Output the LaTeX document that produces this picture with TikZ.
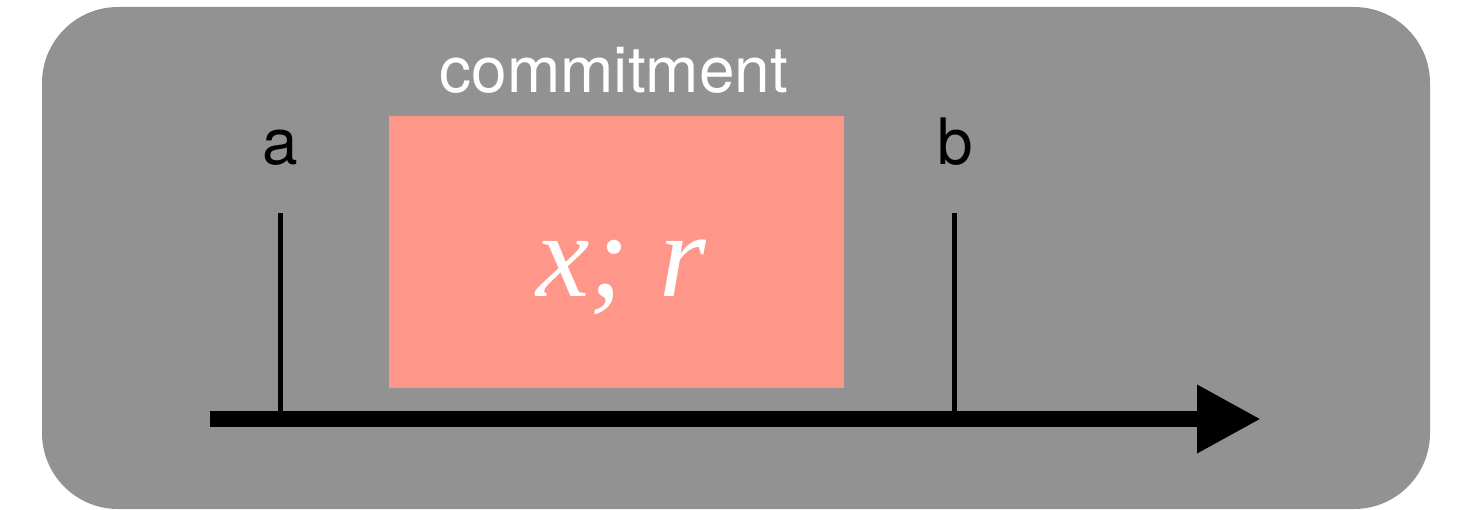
\documentclass[tikz,border=0pt]{standalone}
\usepackage{fontspec}
\setmainfont{TeX Gyre Heros}
\newfontfamily\serifit{Liberation Serif}
\usetikzlibrary{arrows.meta}
\definecolor{panelgray}{HTML}{929292}
\definecolor{commitred}{HTML}{FF968A}
\tikzset{
  panel/.style={fill=panelgray, draw=none, rounded corners=76pt},
  commitbox/.style={fill=commitred, draw=none, minimum width=455pt, minimum height=272pt, inner sep=0pt, anchor=north west},
  lbl/.style={anchor=base, inner sep=0pt, font=\fontsize{64}{64}\selectfont},
  tickline/.style={line width=5pt, black},
  timeline/.style={line width=16pt, black, -{Triangle[length=64pt,width=64pt]}}
}
\begin{document}
\begin{tikzpicture}[x=1pt,y=-1pt]
\useasboundingbox (0,0) rectangle (1459,510);
\fill[panel] (42,7) rectangle (1430,509);
\node[commitbox] (box) at (389,116) {};
\node[anchor=base, inner sep=0pt, text=white, font=\fontsize{120}{120}\serifit\itshape] (xr) at (621,297) {x; r};
\node[lbl, text=white] (commit) at (614,93) {commitment};
\node[lbl] (la) at (280,165) {a};
\node[lbl] (lb) at (955,165) {b};
\coordinate (start) at (210,419);
\coordinate (end) at (1261,419);
\coordinate (a0) at (280.5,411);
\coordinate (a1) at (280.5,213);
\coordinate (b0) at (954,411);
\coordinate (b1) at (954,213);
\draw[tickline] (a0) -- (a1);
\draw[tickline] (b0) -- (b1);
\draw[timeline] (start) -- (end);
\end{tikzpicture}
\end{document}
